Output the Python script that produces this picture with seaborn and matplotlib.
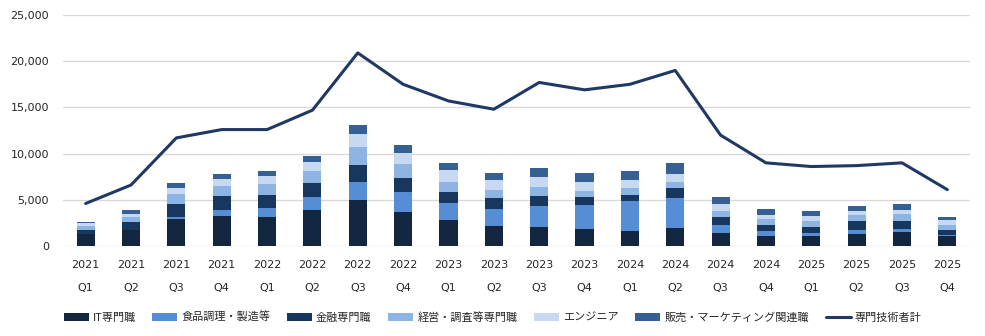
import matplotlib
matplotlib.use("Agg")
import matplotlib.pyplot as plt
import seaborn as sns
import numpy as np
import pandas as pd
from matplotlib.patches import Patch
from matplotlib.lines import Line2D

years = ["2021"]*4 + ["2022"]*4 + ["2023"]*4 + ["2024"]*4 + ["2025"]*4
quarters = ["Q1", "Q2", "Q3", "Q4"]*5
labels = [f"{y}\n{q}" for y, q in zip(years, quarters)]

it_senmon = [1300, 1740, 2930, 3260, 3150, 3910, 5000, 3690, 2820, 2170, 2060, 1850, 1630, 1950, 1410, 1090, 1090, 1300, 1520, 1090]
shokuhin = [0, 0, 220, 650, 980, 1410, 1950, 2170, 1850, 1850, 2280, 2610, 3260, 3260, 870, 540, 330, 430, 330, 110]
kinyu = [430, 870, 1410, 1520, 1410, 1520, 1850, 1520, 1190, 1190, 1090, 870, 650, 1090, 870, 650, 650, 980, 870, 540]
keiei = [430, 540, 1090, 1090, 1190, 1300, 1950, 1520, 1090, 870, 980, 650, 760, 650, 650, 650, 650, 650, 760, 540]
engineer = [330, 330, 650, 760, 870, 980, 1410, 1190, 1300, 1090, 1090, 980, 870, 870, 760, 430, 540, 430, 430, 540]
hanbai = [110, 430, 540, 540, 540, 650, 980, 870, 760, 760, 980, 980, 980, 1190, 760, 650, 540, 540, 650, 330]
total = [4600, 6600, 11700, 12600, 12600, 14700, 20900, 17500, 15700, 14800, 17700, 16900, 17500, 19000, 12000, 9000, 8600, 8700, 9000, 6100]

series_names = ["IT専門職", "食品調理・製造等", "金融専門職", "経営・調査等専門職", "エンジニア", "販売・マーケティング関連職"]
series_vals = [it_senmon, shokuhin, kinyu, keiei, engineer, hanbai]
colors = ["#12263f", "#558ed5", "#17375e", "#8eb4e3", "#c6d9f1", "#376092"]
line_name = "専門技術者計"
line_color = "#1f3864"

sns.set_theme(style="white")
plt.rcParams['font.family'] = ['DejaVu Sans', 'Noto Sans CJK JP']

fig = plt.figure(figsize=(9.85, 3.36), dpi=100)
ax = fig.add_axes([63/985, 90/336, (970-63)/985, (246-15)/336])

idx = np.arange(len(labels))
bottom = np.zeros(len(labels))
for name, vals, c in zip(series_names, series_vals, colors):
    df = pd.DataFrame({"x": labels, "y": vals})
    sns.barplot(data=df, x="x", y="y", bottom=bottom, color=c, width=0.4,
                saturation=1, ax=ax, order=labels, linewidth=0)
    bottom = bottom + np.array(vals)

ldf = pd.DataFrame({"x": idx, "y": total})
sns.lineplot(data=ldf, x="x", y="y", color=line_color, linewidth=2.2, ax=ax)

ax.set_xlim(-0.5, len(labels) - 0.5)
ax.set_ylim(0, 25000)
ax.set_yticks(np.arange(0, 25001, 5000))
ax.set_yticklabels([f"{v:,}" for v in range(0, 25001, 5000)])
ax.set_xticks(idx)
ax.set_xticklabels(labels, linespacing=2.55)
ax.set_xlabel("")
ax.set_ylabel("")
ax.grid(axis="y", color="#d9d9d9", linewidth=1)
ax.set_axisbelow(True)
for s in ax.spines.values():
    s.set_visible(False)
ax.tick_params(axis="both", length=0, labelsize=8, colors="#262626")
ax.tick_params(axis="y", pad=10)
ax.tick_params(axis="x", pad=10.3)

handles = [Patch(facecolor=c, edgecolor="none") for c in colors]
handles.append(Line2D([0], [0], color=line_color, linewidth=2.2))
leg = fig.legend(handles, series_names + [line_name], loc="center",
                 bbox_to_anchor=(0.5, 0.055), ncol=7, frameon=False,
                 prop={"family": ["Noto Sans CJK JP"], "size": 8},
                 handlelength=2.25, handleheight=0.63, columnspacing=1.5, handletextpad=0.36)

fig.savefig("out.png", dpi=100)
